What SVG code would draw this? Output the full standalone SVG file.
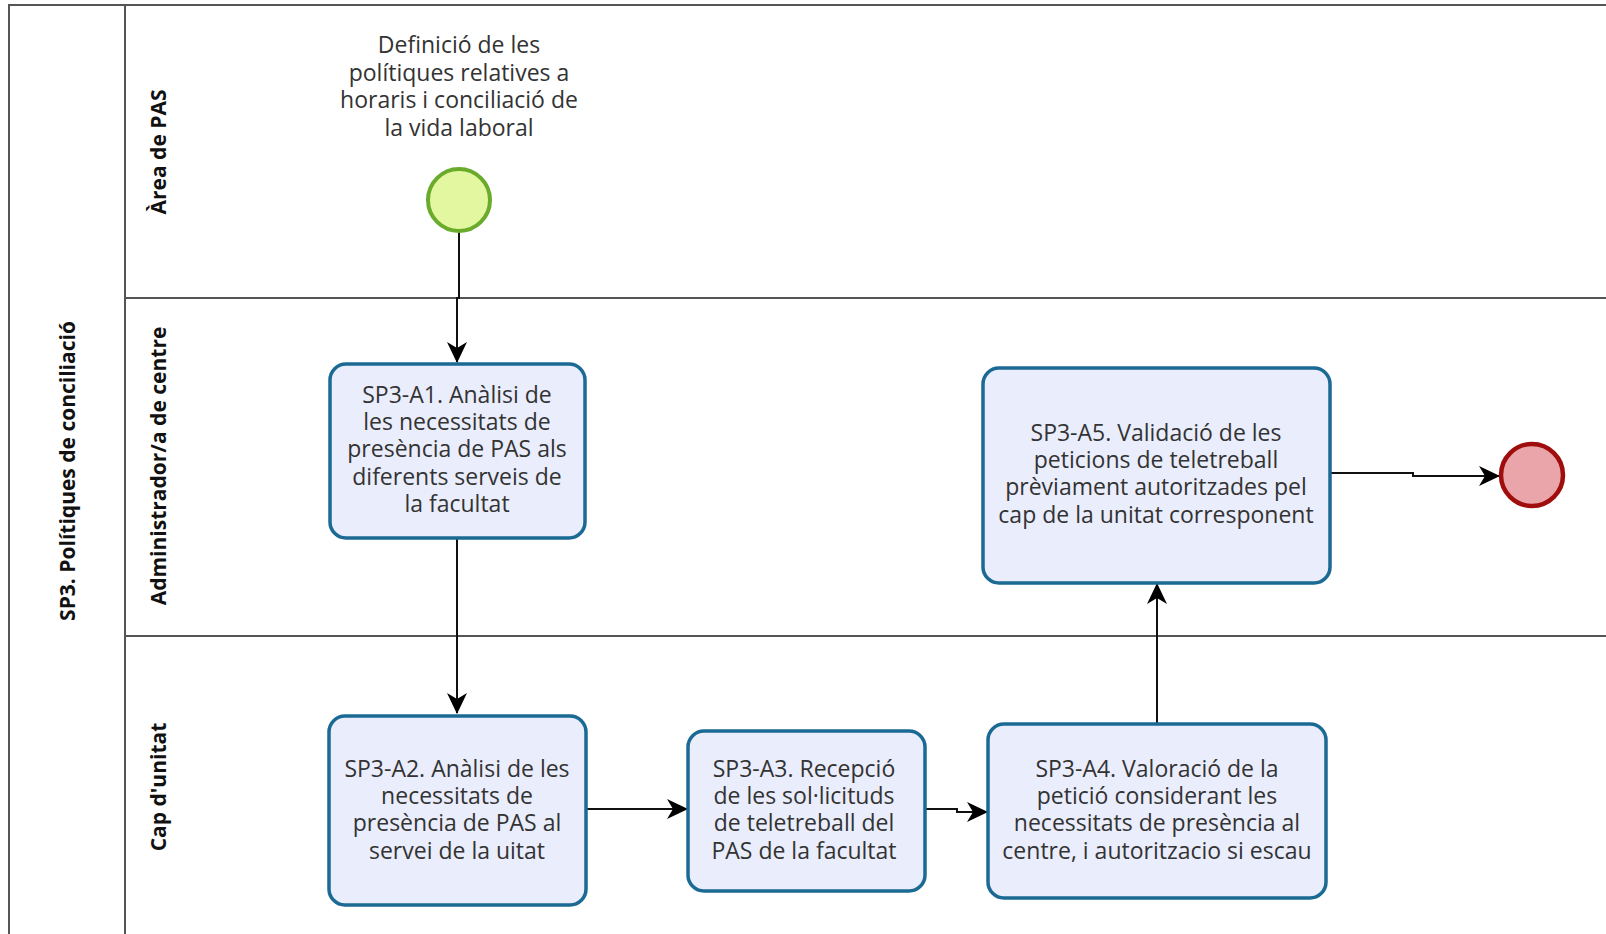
<svg xmlns="http://www.w3.org/2000/svg" width="1606" height="934" viewBox="0 0 1606 934">
<defs>
<style>
.lane{fill:none;stroke:#555;stroke-width:2}
.lbl{font-family:"Open Sans","Noto Sans",sans-serif;font-weight:bold;font-size:21px;fill:#111;text-anchor:middle}
.task{fill:#eaedfc;stroke:#1b6a94;stroke-width:3.5}
.txt{font-family:"Open Sans","Noto Sans",sans-serif;font-size:23px;fill:#333;text-anchor:middle}
.conn{fill:none;stroke:#111;stroke-width:2}
</style>
<marker id="arr" markerUnits="userSpaceOnUse" markerWidth="22" markerHeight="22" viewBox="0 0 22 22" refX="20" refY="11" orient="auto">
<path d="M0,1 L21,11 L0,21 L6,11 Z" fill="#000"/>
</marker>
</defs>
<rect width="1606" height="934" fill="#fff"/>
<g id="pool">
<path class="lane" d="M1606,5 H9 V934 M125,5 V934 M125,298 H1606 M125,636 H1606"/>
<text class="lbl" transform="translate(75,471) rotate(-90)">SP3. Polítiques de conciliació</text>
</g>
<g id="lane-area-pas"><text class="lbl" transform="translate(166,152) rotate(-90)">Àrea de PAS</text></g>
<g id="lane-admin"><text class="lbl" transform="translate(166,466) rotate(-90)">Administrador/a de centre</text></g>
<g id="lane-cap"><text class="lbl" transform="translate(166,787) rotate(-90)">Cap d'unitat</text></g>

<g id="connectors">
<path class="conn" d="M459,231 V298 H457 V362" marker-end="url(#arr)"/>
<path class="conn" d="M457,538 V713" marker-end="url(#arr)"/>
<path class="conn" d="M586,809 H687" marker-end="url(#arr)"/>
<path class="conn" d="M925,809 H957 V812 H987" marker-end="url(#arr)"/>
<path class="conn" d="M1157,724 V584" marker-end="url(#arr)"/>
<path class="conn" d="M1330,473 H1413 V476 H1499" marker-end="url(#arr)"/>
</g>

<g id="start">
<circle cx="459" cy="200" r="31" fill="#e3f7a0" stroke="#6aab2c" stroke-width="4"/>
<text class="txt" x="459" y="53"><tspan x="459">Definició de les</tspan><tspan x="459" dy="27.5">polítiques relatives a</tspan><tspan x="459" dy="27.5">horaris i conciliació de</tspan><tspan x="459" dy="27.5">la vida laboral</tspan></text>
</g>

<g id="A1">
<rect class="task" x="330" y="364" width="255" height="174" rx="16"/>
<text class="txt" x="457" y="403"><tspan x="457">SP3-A1. Anàlisi de</tspan><tspan x="457" dy="27.2">les necessitats de</tspan><tspan x="457" dy="27.2">presència de PAS als</tspan><tspan x="457" dy="27.2">diferents serveis de</tspan><tspan x="457" dy="27.2">la facultat</tspan></text>
</g>

<g id="A2">
<rect class="task" x="329" y="716" width="257" height="189" rx="16"/>
<text class="txt" x="457" y="777"><tspan x="457">SP3-A2. Anàlisi de les</tspan><tspan x="457" dy="27.2">necessitats de</tspan><tspan x="457" dy="27.2">presència de PAS al</tspan><tspan x="457" dy="27.2">servei de la uitat</tspan></text>
</g>

<g id="A3">
<rect class="task" x="688" y="731" width="237" height="160" rx="16"/>
<text class="txt" x="804" y="777"><tspan x="804">SP3-A3. Recepció</tspan><tspan x="804" dy="27.2">de les sol·licituds</tspan><tspan x="804" dy="27.2">de teletreball del</tspan><tspan x="804" dy="27.2">PAS de la facultat</tspan></text>
</g>

<g id="A4">
<rect class="task" x="988" y="724" width="338" height="174" rx="16"/>
<text class="txt" x="1157" y="777"><tspan x="1157">SP3-A4. Valoració de la</tspan><tspan x="1157" dy="27.2">petició considerant les</tspan><tspan x="1157" dy="27.2">necessitats de presència al</tspan><tspan x="1157" dy="27.2">centre, i autoritzacio si escau</tspan></text>
</g>

<g id="A5">
<rect class="task" x="983" y="368" width="347" height="215" rx="16"/>
<text class="txt" x="1156" y="441"><tspan x="1156">SP3-A5. Validació de les</tspan><tspan x="1156" dy="27.2">peticions de teletreball</tspan><tspan x="1156" dy="27.2">prèviament autoritzades pel</tspan><tspan x="1156" dy="27.2">cap de la unitat corresponent</tspan></text>
</g>

<g id="end">
<circle cx="1532" cy="475" r="31" fill="#e9a5a9" stroke="#a00d0d" stroke-width="4.5"/>
</g>
</svg>
